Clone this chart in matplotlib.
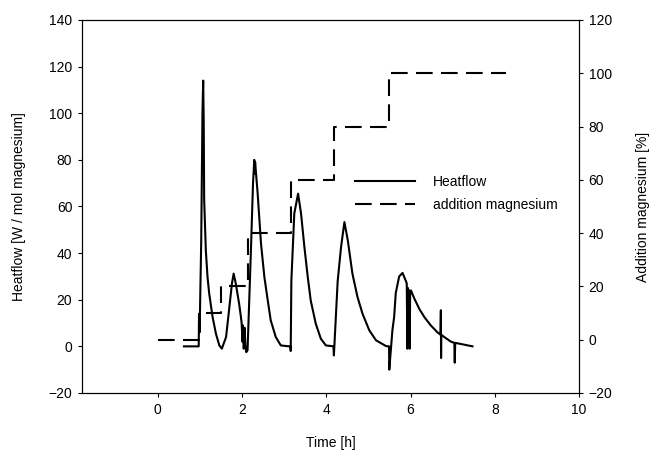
import matplotlib
matplotlib.use('Agg')
import matplotlib.pyplot as plt

plt.rcParams['font.family'] = ['Liberation Sans', 'DejaVu Sans']
plt.rcParams['font.size'] = 10

# heatflow readings (time in h, W / mol magnesium)
heat_time = [0.62, 0.97, 0.98, 0.99, 1.00, 1.03, 1.06, 1.077, 1.09, 1.10, 1.14, 1.18, 1.22, 1.30, 1.38,
             1.46, 1.52, 1.62, 1.69, 1.76, 1.80, 1.85, 1.93, 1.97, 1.99, 2.01, 2.02, 2.04, 2.06, 2.08,
             2.10, 2.13, 2.21, 2.26, 2.29, 2.30, 2.31, 2.37, 2.45, 2.53, 2.61, 2.68, 2.80, 2.92, 3.12,
             3.15, 3.155, 3.17, 3.24, 3.33, 3.40, 3.48, 3.56, 3.63, 3.75, 3.87, 3.99, 4.17, 4.18,
             4.27, 4.35, 4.43, 4.51, 4.62, 4.74, 4.86, 5.02, 5.18, 5.42, 5.49, 5.495, 5.57, 5.61, 5.65,
             5.73, 5.81, 5.89, 5.91, 5.925, 5.94, 5.955, 5.97, 5.98, 5.99, 6.01, 6.09, 6.21, 6.33, 6.48,
             6.64, 6.71, 6.72, 6.725, 6.73, 6.80, 6.96, 7.04, 7.05, 7.06, 7.20, 7.47]
heat_flow = [0, 0, 14, 6, 14, 45, 100, 114, 95, 63, 41, 29.7, 22.6, 12.6, 5.4,
             0.4, -1, 4, 15.4, 27, 31.2, 27, 18.3, 13, 10, 2, 9, -1, 8, 0,
             -2.5, -1.7, 41, 70, 80, 74, 79, 65.6, 44, 29.7, 19.7, 11.2, 4, 0.4, 0,
             0, -2, 28, 57, 65.5, 57, 42.6, 29.7, 19.7, 9.7, 3.3, 0.4, 0, -3.9,
             28, 42.6, 53.3, 45.5, 31.2, 21.2, 14, 6.9, 2.6, 0.1, 0, -10, 7, 12.5, 23,
             30, 31.5, 28, 27, -1, 25, 2, 24, -1, 22, 24, 20.5, 16, 12.5, 9,
             6, 5, 15.5, -5, 5, 4, 2, 1.5, -7, 1.5, 1, 0]

# magnesium added (%), step changes
mg_time = [0, 0.98, 1.50, 2.15, 3.16, 4.18, 5.49, 8.27]
mg_added = [0, 10, 20, 40, 60, 80, 100, 100]

fig = plt.figure(figsize=(6.53, 4.54), dpi=100)
ax = fig.add_axes([0.1256, 0.1344, 0.7611, 0.8216])
ax2 = ax.twinx()

l1, = ax.plot(heat_time, heat_flow, color='black', lw=1.5, label='Heatflow')
l2, = ax2.plot(mg_time, mg_added, color='black', lw=1.5, drawstyle='steps-post',
               dashes=(8, 4), label='addition magnesium')

ax.set_xlim(-1.8, 10)
ax.set_ylim(-20, 140)
ax2.set_ylim(-20, 120)
ax.set_xticks(range(0, 11, 2))
ax.set_yticks(range(-20, 141, 20))
ax2.set_yticks(range(-20, 121, 20))

for a in (ax, ax2):
    for s in a.spines.values():
        s.set_linewidth(0.8)
    a.tick_params(direction='out', length=3, width=0.8, pad=4)

ax.set_xlabel('Time [h]', labelpad=14)
ax.set_ylabel('Heatflow [W / mol magnesium]', labelpad=16)
ax2.set_ylabel('Addition magnesium [%]', labelpad=17)

ax2.legend([l1, l2], ['Heatflow', 'addition magnesium'], loc='upper left',
           bbox_to_anchor=(0.549, 0.585), frameon=False, borderaxespad=0, borderpad=0,
           handlelength=4.3, handletextpad=1.3, labelspacing=0.65)

fig.savefig('out.png', dpi=100)
